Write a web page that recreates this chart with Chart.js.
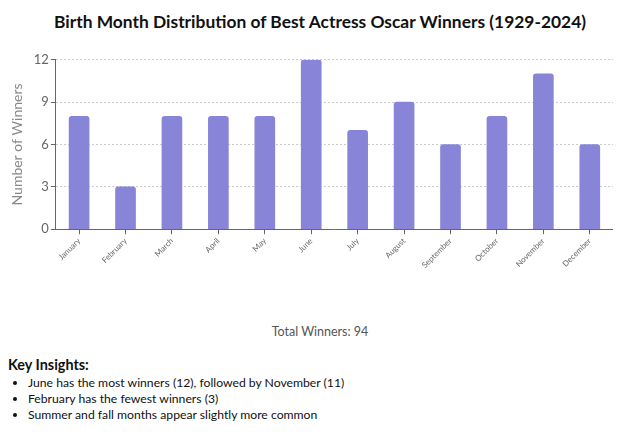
<!DOCTYPE html>
<html>
<head>
<meta charset="utf-8">
<script src="https://cdn.jsdelivr.net/npm/chart.js@4"></script>
<style>
  body { margin: 0; background: #fff; font-family: Lato, "Noto Sans", sans-serif; width: 640px; height: 434px; overflow: hidden; position: relative; }
  #title { position: absolute; top: 11px; left: 0; width: 640px; text-align: center; font-size: 17.4px; font-weight: bold; color: #111; }
  #wrap { position: absolute; left: 0; top: 50px; width: 613px; height: 222px; }
  #total { position: absolute; top: 324px; left: 0; width: 640px; text-align: center; font-size: 12.5px; color: #555; }
  #insights { position: absolute; top: 356px; left: 8px; color: #111; }
  #insights h3 { margin: 0; font-size: 14.4px; font-weight: bold; }
  #insights ul { margin: 2px 0 0 0; padding-left: 20px; font-size: 12.2px; line-height: 16px; }
</style>
</head>
<body>
<div id="title">Birth Month Distribution of Best Actress Oscar Winners (1929-2024)</div>
<div id="wrap"><canvas id="chart"></canvas></div>
<div id="total">Total Winners: 94</div>
<div id="insights">
  <h3>Key Insights:</h3>
  <ul>
    <li>June has the most winners (12), followed by November (11)</li>
    <li>February has the fewest winners (3)</li>
    <li>Summer and fall months appear slightly more common</li>
  </ul>
</div>
<script>
const months = ["January","February","March","April","May","June","July","August","September","October","November","December"];
const winners = [8, 3, 8, 8, 8, 12, 7, 9, 6, 8, 11, 6];
const yTicks = [0, 3, 6, 9, 12];

const ctx = document.getElementById("chart").getContext("2d");
new Chart(ctx, {
  type: "bar",
  data: {
    labels: months,
    datasets: [{
      label: "Winners",
      data: winners,
      backgroundColor: "#8884d8",
      borderRadius: { topLeft: 3, topRight: 3 },
      borderSkipped: "bottom",
      barThickness: 20
    }]
  },
  options: {
    responsive: true,
    maintainAspectRatio: false,
    animation: false,
    layout: { padding: { top: 9, left: 5, right: 0, bottom: 0 } },
    plugins: { legend: { display: false }, tooltip: { enabled: false } },
    scales: {
      x: {
        grid: { offset: false, drawOnChartArea: false, drawTicks: true, tickLength: 5, tickColor: "#666" },
        border: { display: true, color: "#666" },
        ticks: { color: "#666", font: { family: "Lato", size: 8 }, maxRotation: 45, minRotation: 45, autoSkip: false, padding: 2 }
      },
      y: {
        min: 0, max: 12,
        afterBuildTicks: axis => { axis.ticks = yTicks.map(v => ({ value: v })); },
        grid: { color: "#ccc", tickColor: "#666", tickBorderDash: [], tickLength: 5 },
        border: { display: true, color: "#666", dash: [2, 2] },
        ticks: { color: "#666", font: { family: "Lato", size: 13 }, padding: 2 },
        title: { display: true, text: "Number of Winners", color: "#888", font: { family: "Lato", size: 14 }, padding: { bottom: 6 } }
      }
    }
  }
});
</script>
</body>
</html>
